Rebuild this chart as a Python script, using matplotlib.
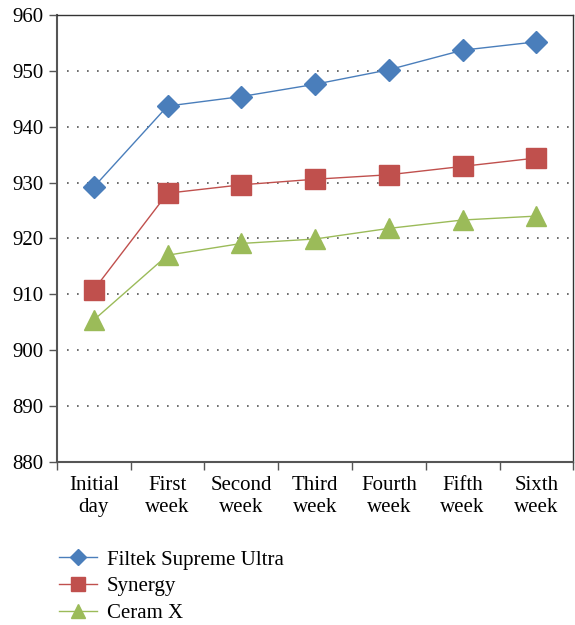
import matplotlib.pyplot as plt

categories = ['Initial\nday', 'First\nweek', 'Second\nweek', 'Third\nweek',
              'Fourth\nweek', 'Fifth\nweek', 'Sixth\nweek']
filtek = [929.2, 943.7, 945.4, 947.6, 950.2, 953.7, 955.2]
synergy = [910.8, 928.1, 929.6, 930.6, 931.4, 932.9, 934.4]
ceram = [905.4, 917.0, 919.1, 919.9, 921.8, 923.3, 924.0]

plt.rcParams['font.family'] = ['Liberation Serif', 'DejaVu Serif']

fig = plt.figure(figsize=(5.75, 6.25), dpi=100)
ax = fig.add_axes([0.099, 0.261, 0.898, 0.715])

x = range(len(categories))
l1, = ax.plot(x, filtek, color='#4A7EBB', lw=1.0, marker='D', ms=11,
              label='Filtek Supreme Ultra')
l2, = ax.plot(x, synergy, color='#C0504D', lw=1.0, marker='s', ms=14,
              label='Synergy')
l3, = ax.plot(x, ceram, color='#9BBB59', lw=1.0, marker='^', ms=14,
              label='Ceram X')

ax.set_xlim(-0.5, len(categories) - 0.5)
ax.set_ylim(880, 960)
ax.set_yticks(range(880, 961, 10))
ax.set_xticks(x)
ax.set_xticklabels(categories, fontsize=15, linespacing=1.25)
ax.tick_params(axis='x', length=0, pad=10)
ax.set_xticks([i - 0.5 for i in range(len(categories) + 1)], minor=True)
ax.tick_params(axis='x', which='minor', length=6, width=1, color='#555555')
ax.tick_params(axis='y', labelsize=15, length=6, width=1, color='#555555')

for v in range(890, 960, 10):
    ax.axhline(v, xmin=0.02, color='#555555', lw=1.2, ls=(0, (1, 5)), zorder=0)

for s in ['left', 'bottom']:
    ax.spines[s].set_color('#555555')
    ax.spines[s].set_linewidth(1.5)
for s in ['top', 'right']:
    ax.spines[s].set_color('#333333')
    ax.spines[s].set_linewidth(1.0)

fig.legend(handles=[l1, l2, l3], loc='upper left', bbox_to_anchor=(0.07, 0.15),
           frameon=False, fontsize=15, handlelength=1.8, labelspacing=0.35,
           handletextpad=0.5, markerscale=0.75)

plt.savefig('out.png', dpi=100)
